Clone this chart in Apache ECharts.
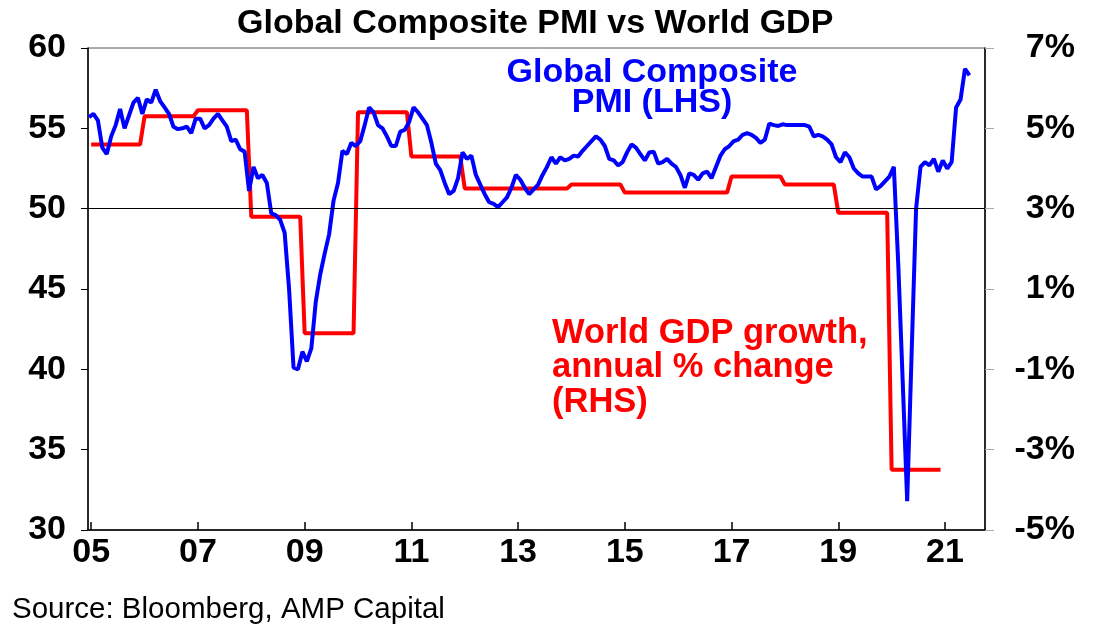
<!DOCTYPE html>
<html>
<head>
<meta charset="utf-8">
<script src="https://cdn.jsdelivr.net/npm/echarts@6/dist/echarts.min.js"></script>
<style>
  html, body { margin: 0; padding: 0; background: #fff; }
  #main { width: 1098px; height: 641px; }
</style>
</head>
<body>
<div id="main"></div>
<script>
// monthly global composite PMI, first value is Dec 2004
const pmiStart = [2004, 12];
const pmiValues = [
  55.7,
  55.9, 55.5, 53.8, 53.4, 54.5, 55.2, 56.2, 55.0, 55.8, 56.6, 56.9, 55.9, // 2005
  56.8, 56.6, 57.4, 56.7, 56.3, 55.9, 55.1, 54.95, 55.0, 55.1, 54.7, 55.6, // 2006
  55.6, 55.0, 55.2, 55.6, 55.9, 55.5, 55.1, 54.2, 54.3, 53.7, 53.55, 51.1, // 2007
  52.6, 51.9, 52.1, 51.6, 49.7, 49.6, 49.3, 48.5, 45.0, 40.1, 40.0, 41.1, // 2008
  40.5, 41.3, 44.2, 45.9, 47.2, 48.4, 50.5, 51.6, 53.6, 53.4, 54.1, 53.9, // 2009
  54.2, 55.2, 56.3, 56.0, 55.2, 55.0, 54.5, 53.9, 53.9, 54.8, 54.9, 55.4, // 2010
  56.3, 56.0, 55.6, 55.2, 54.1, 52.8, 52.4, 51.6, 50.9, 51.1, 51.9, 53.5, // 2011
  53.1, 53.3, 52.1, 51.5, 50.9, 50.4, 50.3, 50.1, 50.4, 50.7, 51.3, 52.1, // 2012
  51.8, 51.3, 50.9, 51.2, 51.5, 52.1, 52.6, 53.2, 52.8, 53.2, 53.0, 53.1, // 2013
  53.3, 53.25, 53.6, 53.9, 54.2, 54.5, 54.3, 53.9, 53.1, 53.0, 52.7, 52.9, // 2014
  53.5, 54.0, 53.8, 53.4, 53.0, 53.5, 53.55, 52.8, 52.9, 53.1, 52.8, 52.6, // 2015
  52.1, 51.3, 52.2, 52.1, 51.8, 52.2, 52.3, 51.9, 52.6, 53.3, 53.7, 53.9, // 2016
  54.2, 54.3, 54.6, 54.7, 54.6, 54.4, 54.1, 54.3, 55.3, 55.2, 55.15, 55.25, // 2017
  55.2, 55.2, 55.2, 55.2, 55.2, 55.1, 54.5, 54.6, 54.5, 54.3, 54.0, 53.2, // 2018
  52.9, 53.5, 53.2, 52.5, 52.2, 52.0, 52.0, 52.0, 51.2, 51.4, 51.7, 52.0, // 2019
  52.6, 46.5, 39.2, 31.8, 41.0, 50.0, 52.6, 52.9, 52.7, 53.1, 52.3, 53.0, // 2020
  52.5, 52.9, 56.3, 56.8, 58.7, 58.3                                      // 2021
];

// annual world GDP growth, %
const gdpYears = [2005, 2006, 2007, 2008, 2009, 2010, 2011, 2012, 2013, 2014, 2015, 2016, 2017, 2018, 2019, 2020];
const gdpGrowth = [4.6, 5.3, 5.45, 2.8, -0.1, 5.4, 4.3, 3.5, 3.5, 3.6, 3.4, 3.4, 3.8, 3.6, 2.9, -3.5];

const yearTicks = [2005, 2007, 2009, 2011, 2013, 2015, 2017, 2019, 2021];

const font = 'Liberation Sans, Arial, sans-serif';

// points at mid month
const pmiData = pmiValues.map((v, i) => {
  const m = pmiStart[1] - 1 + i;
  return [pmiStart[0] + (m + 0.5) / 12, v];
});

// each year's value held Jan..Dec
const gdpData = [];
gdpYears.forEach((y, i) => {
  gdpData.push([y, gdpGrowth[i]]);
  gdpData.push([y + 11 / 12, gdpGrowth[i]]);
});

const chart = echarts.init(document.getElementById('main'));

chart.setOption({
  animation: false,
  title: {
    text: 'Global Composite PMI vs World GDP',
    left: 232,
    top: 2,
    textStyle: { fontFamily: font, fontSize: 34, fontWeight: 'bold', color: '#000' }
  },
  grid: {
    left: 88, right: 113, top: 48, bottom: 111,
    show: true, borderColor: '#555', borderWidth: 1, backgroundColor: 'transparent'
  },
  xAxis: {
    type: 'value',
    min: 2004.94,
    max: 2021.75,
    axisLine: { onZero: false, lineStyle: { color: '#000', width: 1.5 } },
    axisTick: { customValues: yearTicks, inside: true, length: 8, lineStyle: { color: '#000', width: 1.5 } },
    axisLabel: {
      customValues: yearTicks,
      formatter: v => String(Math.round(v) % 100).padStart(2, '0'),
      fontFamily: font, fontSize: 34, fontWeight: 'bold', color: '#000', margin: 6
    },
    splitLine: { show: false }
  },
  yAxis: [
    {
      type: 'value', min: 30, max: 60, interval: 5,
      axisLine: { show: true, lineStyle: { color: '#000', width: 1.5 } },
      axisTick: { show: true, length: 7, lineStyle: { color: '#000' } },
      axisLabel: { fontFamily: font, fontSize: 34, fontWeight: 'bold', color: '#000', margin: 22 },
      splitLine: { show: false }
    },
    {
      type: 'value', min: -5, max: 7, interval: 2,
      axisLine: { show: true, lineStyle: { color: '#000', width: 1.5 } },
      axisTick: { show: true, length: 9, lineStyle: { color: '#aaa' } },
      axisLabel: {
        formatter: '{value}%', align: 'right',
        fontFamily: font, fontSize: 34, fontWeight: 'bold', color: '#000', margin: 90
      },
      splitLine: { show: false }
    }
  ],
  series: [
    {
      name: 'World GDP growth',
      type: 'line',
      yAxisIndex: 1,
      data: gdpData,
      showSymbol: false,
      lineStyle: { color: '#ff0000', width: 4 }
    },
    {
      name: 'Global Composite PMI',
      type: 'line',
      yAxisIndex: 0,
      data: pmiData,
      showSymbol: false,
      lineStyle: { color: '#0000ff', width: 4 },
      markLine: {
        silent: true,
        symbol: 'none',
        label: { show: false },
        lineStyle: { color: '#000', width: 1.2, type: 'solid' },
        data: [{ yAxis: 50 }]
      }
    }
  ],
  graphic: [
    {
      type: 'text', x: 652, y: 58,
      style: {
        text: 'Global Composite\nPMI (LHS)', fill: '#0000ff', align: 'center', verticalAlign: 'top',
        font: 'bold 34px ' + font, lineHeight: 30
      }
    },
    {
      type: 'text', x: 552, y: 316,
      style: {
        text: 'World GDP growth,\nannual % change\n(RHS)', fill: '#ff0000', verticalAlign: 'top',
        font: 'bold 34.5px ' + font, lineHeight: 34.5
      }
    },
    {
      type: 'text', x: 12, y: 595,
      style: { text: 'Source: Bloomberg, AMP Capital', fill: '#000', font: '29.5px ' + font, verticalAlign: 'top' }
    }
  ]
});
</script>
</body>
</html>
